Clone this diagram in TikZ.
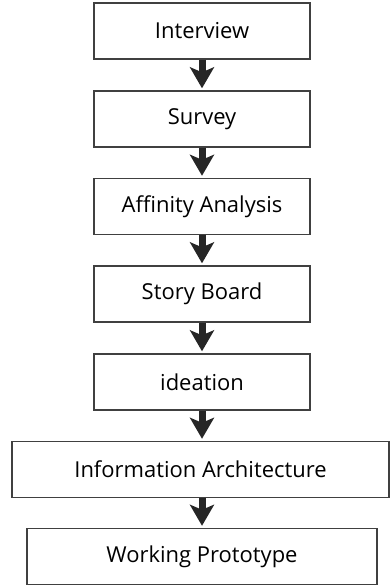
\documentclass[tikz,border=0pt]{standalone}
\usepackage{fontspec}
\setmainfont{Open Sans}
\usepackage{tikz}
\usetikzlibrary{arrows.meta}

\begin{document}
\begin{tikzpicture}[>={Stealth[length=0.42cm, width=0.48cm, inset=0.1cm]},
    stage/.style={draw=black!75, line width=0.8pt, minimum height=1.12cm, inner sep=0pt, font=\fontsize{12.5}{15}\selectfont},
    flow/.style={->, line width=0.14cm, black!85, shorten >=0.04cm}]
    \useasboundingbox (0,0) rectangle (7.8,-11.7);
    \node[stage, minimum width=4.32cm] (interview) at (4.04,-0.62) {Interview};
    \node[stage, minimum width=4.32cm] (survey) at (4.04,-2.38) {Survey};
    \node[stage, minimum width=4.32cm] (affinity) at (4.04,-4.13) {Affinity Analysis};
    \node[stage, minimum width=4.32cm] (story) at (4.04,-5.88) {Story Board};
    \node[stage, minimum width=4.32cm] (ideation) at (4.04,-7.64) {ideation};
    \node[stage, minimum width=7.54cm] (infoarch) at (4.01,-9.39) {Information Architecture};
    \node[stage, minimum width=7.00cm] (prototype) at (4.04,-11.13) {Working Prototype};
    \draw[flow] (interview.south) -- (survey.north);
    \draw[flow] (survey.south) -- (affinity.north);
    \draw[flow] (affinity.south) -- (story.north);
    \draw[flow] (story.south) -- (ideation.north);
    \draw[flow] (ideation.south) -- (ideation.south |- infoarch.north);
    \draw[flow] (infoarch.south -| prototype.north) -- (prototype.north);
\end{tikzpicture}
\end{document}
